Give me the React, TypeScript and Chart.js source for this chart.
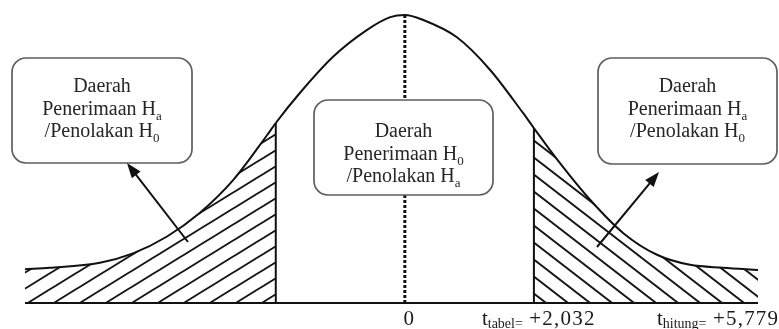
import { useEffect, useRef } from "react";
import { Chart, registerables } from "chart.js";

Chart.register(...registerables);

// Curve (abstract t-units on x, density-like units on y)
const curveX = [
  -5.98, -5.59, -4.8, -4.28, -3.75, -3.23, -2.7, -2.17, -2.032, -1.65, -1.13, -0.6, -0.23, 0,
  0.29, 0.82, 1.34, 1.86, 2.032, 2.4, 2.92, 3.44, 3.97, 4.49, 5.01, 5.56,
];
const curveY = [
  0.047, 0.049, 0.056, 0.069, 0.092, 0.125, 0.171, 0.233, 0.25, 0.292, 0.342, 0.379, 0.397, 0.4,
  0.393, 0.369, 0.324, 0.264, 0.243, 0.199, 0.143, 0.097, 0.067, 0.053, 0.049, 0.046,
];
const criticalT = 2.032;
const axisMin = -5.98;
const axisMax = 5.56;
const yMax = 0.4;

// Tick labels
const zeroLabel = "0";
const tabelLabel = { main: "t", sub: "tabel=", value: "+2,032" };
const hitungLabel = { main: "t", sub: "hitung=", value: "+5,779" };

// Box texts
const boxTitle = "Daerah";
const sideBoxLines: [string, string][] = [
  ["Penerimaan H", "a"],
  ["/Penolakan H", "0"],
];
const centerBoxLines: [string, string][] = [
  ["Penerimaan H", "0"],
  ["/Penolakan H", "a"],
];

const SERIF = '"Liberation Serif", "Times New Roman", Times, serif';

function makeHatch(w: number, h: number, rising: boolean): CanvasPattern | string {
  const c = document.createElement("canvas");
  c.width = w;
  c.height = h;
  const g = c.getContext("2d");
  if (!g) return "transparent";
  g.strokeStyle = "#151515";
  g.lineWidth = 1.9;
  g.lineCap = "butt";
  for (const s of [-w, 0, w]) {
    g.beginPath();
    if (rising) {
      g.moveTo(s - w, 2 * h);
      g.lineTo(s + 2 * w, -h);
    } else {
      g.moveTo(s - w, -h);
      g.lineTo(s + 2 * w, 2 * h);
    }
    g.stroke();
  }
  return g.createPattern(c, "repeat") || "transparent";
}

type Part = { text: string; size: number; dy: number; spacing?: number };

function measureParts(ctx: CanvasRenderingContext2D, parts: Part[]) {
  let w = 0;
  for (const p of parts) {
    ctx.font = `${p.size}px ${SERIF}`;
    (ctx as any).letterSpacing = `${p.spacing || 0}px`;
    w += ctx.measureText(p.text).width;
  }
  (ctx as any).letterSpacing = "0px";
  return w;
}

function drawParts(ctx: CanvasRenderingContext2D, parts: Part[], x: number, y: number) {
  let cx = x;
  ctx.textAlign = "left";
  ctx.textBaseline = "alphabetic";
  for (const p of parts) {
    ctx.font = `${p.size}px ${SERIF}`;
    (ctx as any).letterSpacing = `${p.spacing || 0}px`;
    ctx.fillText(p.text, cx, y + p.dy);
    cx += ctx.measureText(p.text).width;
  }
  (ctx as any).letterSpacing = "0px";
}

function drawBox(
  ctx: CanvasRenderingContext2D,
  x: number,
  y: number,
  w: number,
  h: number,
  lines: [string, string][],
  firstBaseline: number,
  size: number
) {
  ctx.save();
  ctx.beginPath();
  (ctx as any).roundRect(x, y, w, h, 14);
  ctx.fillStyle = "#ffffff";
  ctx.fill();
  ctx.strokeStyle = "#5e5e5e";
  ctx.lineWidth = 1.7;
  ctx.stroke();
  ctx.fillStyle = "#262626";
  const cx = x + w / 2;
  const rows: Part[][] = [
    [{ text: boxTitle, size, dy: 0 }],
    ...lines.map(([a, b]) => [
      { text: a, size, dy: 0 },
      { text: b, size: size * 0.65, dy: 5 },
    ]),
  ];
  rows.forEach((parts, i) => {
    const w2 = measureParts(ctx, parts);
    drawParts(ctx, parts, cx - w2 / 2, firstBaseline + i * 22.5);
  });
  ctx.restore();
}

function drawArrow(ctx: CanvasRenderingContext2D, x1: number, y1: number, x2: number, y2: number) {
  const ang = Math.atan2(y2 - y1, x2 - x1);
  const len = 15;
  const half = 5.5;
  ctx.save();
  ctx.strokeStyle = "#111";
  ctx.fillStyle = "#111";
  ctx.lineWidth = 2;
  ctx.beginPath();
  ctx.moveTo(x1, y1);
  ctx.lineTo(x2 - Math.cos(ang) * (len - 2), y2 - Math.sin(ang) * (len - 2));
  ctx.stroke();
  ctx.beginPath();
  ctx.moveTo(x2, y2);
  ctx.lineTo(
    x2 - Math.cos(ang) * len + Math.sin(ang) * half,
    y2 - Math.sin(ang) * len - Math.cos(ang) * half
  );
  ctx.lineTo(
    x2 - Math.cos(ang) * len - Math.sin(ang) * half,
    y2 - Math.sin(ang) * len + Math.cos(ang) * half
  );
  ctx.closePath();
  ctx.fill();
  ctx.restore();
}

const annotationPlugin = {
  id: "diagramAnnotations",
  afterDatasetsDraw(chart: any) {
    const ctx: CanvasRenderingContext2D = chart.ctx;
    const xs = chart.scales.x;
    const ys = chart.scales.y;
    const base = ys.getPixelForValue(0);

    drawBox(ctx, 12, 58, 180, 105, sideBoxLines, 92, 20);
    drawBox(ctx, 314, 100, 179, 95, centerBoxLines, 137, 20);
    drawBox(ctx, 598, 58, 179, 106, sideBoxLines, 92, 20);

    drawArrow(ctx, 188, 242, 127, 163);
    drawArrow(ctx, 597, 247, 659, 172);

    ctx.save();
    ctx.fillStyle = "#1a1a1a";
    const labelY = base + 22;
    const z: Part[] = [{ text: zeroLabel, size: 21, dy: 0 }];
    const zw = measureParts(ctx, z);
    drawParts(ctx, z, xs.getPixelForValue(0) + 4 - zw / 2, labelY);

    const mk = (l: { main: string; sub: string; value: string }): Part[] => [
      { text: l.main, size: 21, dy: 0 },
      { text: l.sub, size: 14, dy: 3 },
      { text: " " + l.value, size: 21, dy: 0, spacing: 1.2 },
    ];
    drawParts(ctx, mk(tabelLabel), xs.getPixelForValue(criticalT) - 52, labelY);
    drawParts(ctx, mk(hitungLabel), xs.getPixelForValue(axisMax) - 101, labelY);
    ctx.restore();
  },
};

export default function App() {
  const ref = useRef<HTMLCanvasElement>(null);

  useEffect(() => {
    const canvas = ref.current;
    if (!canvas) return;
    const leftPattern = makeHatch(26, 16, true);
    const rightPattern = makeHatch(22, 17, false);
    const points = curveX.map((x, i) => ({ x, y: curveY[i] }));
    const iL = curveX.indexOf(-criticalT);
    const iR = curveX.indexOf(criticalT);
    const iTop = curveX.indexOf(0);
    const eps = 1e-9;

    const lineBase = {
      borderColor: "#111111",
      borderWidth: 2,
      pointRadius: 0,
      fill: false,
      clip: false as any,
      tension: 0,
    };

    const chart = new Chart(canvas, {
      type: "line",
      data: {
        datasets: [
          {
            ...lineBase,
            data: points,
            cubicInterpolationMode: "monotone",
            fill: "origin",
            backgroundColor: "transparent",
            segment: {
              backgroundColor: (c: any) =>
                c.p1.parsed.x <= -criticalT + eps
                  ? leftPattern
                  : c.p0.parsed.x >= criticalT - eps
                  ? rightPattern
                  : "transparent",
            },
          } as any,
          {
            ...lineBase,
            data: [
              { x: axisMin, y: 0 },
              { x: axisMax, y: 0 },
            ],
          },
          {
            ...lineBase,
            data: [
              { x: -criticalT, y: 0 },
              { x: -criticalT, y: curveY[iL] },
            ],
          },
          {
            ...lineBase,
            data: [
              { x: criticalT, y: 0 },
              { x: criticalT, y: curveY[iR] },
            ],
          },
          {
            ...lineBase,
            borderWidth: 3,
            borderDash: [3, 2],
            data: [
              { x: 0, y: 0 },
              { x: 0, y: curveY[iTop] },
            ],
          },
        ],
      },
      options: {
        animation: false,
        responsive: false,
        devicePixelRatio: 1,
        layout: { padding: { left: 25, right: 21, top: 15, bottom: 26 } },
        scales: {
          x: { type: "linear", min: axisMin, max: axisMax, display: false },
          y: { type: "linear", min: 0, max: yMax, display: false },
        },
        plugins: {
          legend: { display: false },
          tooltip: { enabled: false },
        },
      },
      plugins: [annotationPlugin],
    } as any);

    return () => chart.destroy();
  }, []);

  return (
    <div
      style={{
        position: "fixed",
        left: 0,
        top: 0,
        width: 779,
        height: 329,
        background: "#ffffff",
      }}
    >
      <canvas ref={ref} width={779} height={329} style={{ display: "block", width: 779, height: 329 }} />
    </div>
  );
}
